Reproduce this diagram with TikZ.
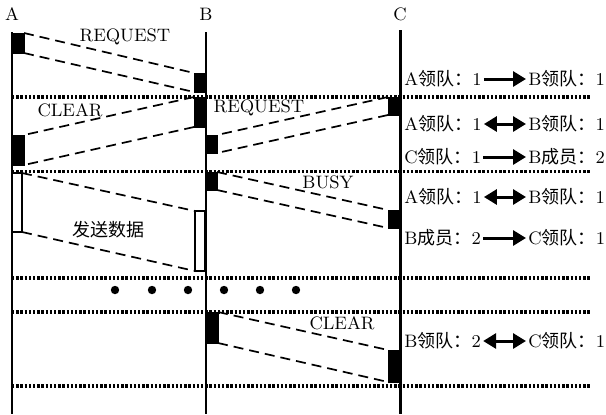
\documentclass[tikz,border=0pt]{standalone}
\usepackage{fontspec}
\newfontfamily\cjk{Noto Sans CJK SC}
\usetikzlibrary{arrows.meta}
\begin{document}
\begin{tikzpicture}[x=0.5pt,y=-0.5pt,
  every node/.style={font=\fontsize{9}{11}\selectfont},
  lifeline/.style={line width=1pt},
  lifelineC/.style={line width=1.5pt},
  sepline/.style={line width=1.6pt, dash pattern=on 1.2pt off 0.9pt},
  msg/.style={line width=0.85pt, dash pattern=on 5pt off 3pt},
  blk/.style={fill=black, draw=black, line width=0.4pt, inner sep=0pt, outer sep=0pt},
  wblk/.style={fill=white, draw=black, line width=1pt, inner sep=0pt, outer sep=0pt},
  rowtxt/.style={inner sep=1pt, anchor=west},
  bigarrow/.style={line width=1.5pt, -{Triangle[length=6.5pt,width=7.5pt]}},
  dblarrow/.style={line width=1.5pt, {Triangle[length=6.5pt,width=7.5pt]}-{Triangle[length=6.5pt,width=7.5pt]}},
  dot/.style={circle, fill=black, inner sep=0pt, minimum size=4.2pt}
]
\useasboundingbox (0,0) rectangle (606,414);

% labels
\node (A) at (12,14) {A};
\node (B) at (206,14) {B};
\node (C) at (400,14) {C};

% lifelines
\coordinate (Atop) at (12,32);  \coordinate (Abot) at (12,414);
\coordinate (Btop) at (205.5,32); \coordinate (Bbot) at (205.5,414);
\coordinate (Ctop) at (400,30); \coordinate (Cbot) at (400,414);
\draw[lifeline] (Atop) -- (Abot);
\draw[lifeline] (Btop) -- (Bbot);
\draw[lifelineC] (Ctop) -- (Cbot);

% separators
\foreach \yy/\nm in {97/s1,171.5/s2,278/s3,312/s4,386/s5}{
  \coordinate (\nm L) at (12,\yy);
  \coordinate (\nm R) at (591,\yy);
  \draw[sepline] (\nm L) -- (\nm R);
}

% blocks
\node[blk, minimum width=6.5pt, minimum height=10pt] (a1) at (17.5,43) {};
\node[blk, minimum width=6pt, minimum height=9.5pt] (b1) at (200,82.5) {};
\node[blk, minimum width=6pt, minimum height=15pt] (b2) at (200,112) {};
\node[blk, minimum width=6.5pt, minimum height=15pt] (a2) at (17.5,150) {};
\node[blk, minimum width=6pt, minimum height=9pt] (c1) at (394,106) {};
\node[blk, minimum width=6pt, minimum height=9pt] (b3) at (211,144) {};
\node[blk, minimum width=6pt, minimum height=9pt] (b4) at (211,181) {};
\node[blk, minimum width=6pt, minimum height=9pt] (c2) at (394,219) {};
\node[wblk, minimum width=5pt, minimum height=29.5pt] (a3) at (17,202.5) {};
\node[wblk, minimum width=5pt, minimum height=30pt] (b5) at (200,241) {};
\node[blk, minimum width=6.5pt, minimum height=15.5pt] (b6) at (211.5,327.5) {};
\node[blk, minimum width=6pt, minimum height=16pt] (c3) at (394,366) {};

% messages
\draw[msg] (a1.north east) -- (b1.north west);
\draw[msg] (a1.south east) -- (b1.south west);
\draw[msg] (b2.north west) -- (a2.north east);
\draw[msg] (b2.south west) -- (a2.south east);
\draw[msg] (c1.north west) -- (b3.north east);
\draw[msg] (c1.south west) -- (b3.south east);
\draw[msg] (b4.north east) -- (c2.north west);
\draw[msg] (b4.south east) -- (c2.south west);
\draw[msg] (a3.north east) -- (b5.north west);
\draw[msg] (a3.south east) -- (b5.south west);
\draw[msg] (b6.north east) -- (c3.north west);
\draw[msg] (b6.south east) -- (c3.south west);

% message labels
\node (m1) at (125,37) {REQUEST};
\node (m2) at (70,110) {CLEAR};
\node (m3) at (259,108) {REQUEST};
\node (m4) at (328,182) {BUSY};
\node (m5) at (108,230) {\cjk 发送数据};
\node (m6) at (342,323) {CLEAR};

% dots
\foreach \xx [count=\i] in {115,152,188,224,260,296}{
  \node[dot] (d\i) at (\xx,290) {};
}

% right side rows
\node[rowtxt] (l1) at (402,79) {A{\cjk 领队：}1};
\node[rowtxt] (r1) at (526,79) {B{\cjk 领队：}1};
\draw[bigarrow] (l1.east) -- (r1.west);

\node[rowtxt] (l2) at (402,124) {A{\cjk 领队：}1};
\node[rowtxt] (r2) at (526,124) {B{\cjk 领队：}1};
\draw[dblarrow] (l2.east) -- (r2.west);

\node[rowtxt] (l3) at (402,157) {C{\cjk 领队：}1};
\node[rowtxt] (r3) at (526,157) {B{\cjk 成员：}2};
\draw[bigarrow] (l3.east) -- (r3.west);

\node[rowtxt] (l4) at (402,197) {A{\cjk 领队：}1};
\node[rowtxt] (r4) at (526,197) {B{\cjk 领队：}1};
\draw[dblarrow] (l4.east) -- (r4.west);

\node[rowtxt] (l5) at (402,238) {B{\cjk 成员：}2};
\node[rowtxt] (r5) at (526,238) {C{\cjk 领队：}1};
\draw[bigarrow] (l5.east) -- (r5.west);

\node[rowtxt] (l6) at (402,341) {B{\cjk 领队：}2};
\node[rowtxt] (r6) at (526,341) {C{\cjk 领队：}1};
\draw[dblarrow] (l6.east) -- (r6.west);
\end{tikzpicture}
\end{document}
